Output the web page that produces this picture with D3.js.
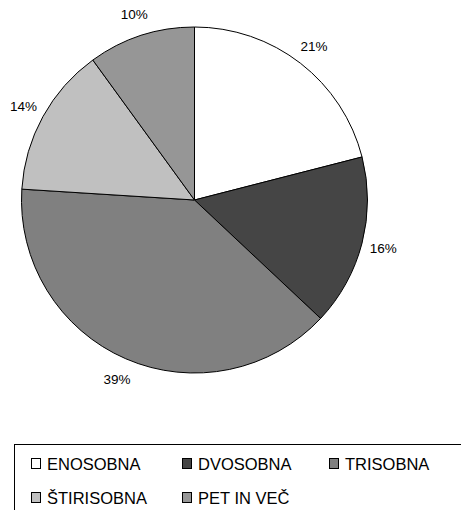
<!DOCTYPE html>
<html>
<head>
<meta charset="utf-8">
<script src="https://cdn.jsdelivr.net/npm/d3@7"></script>
<style>
  body { margin: 0; background: #fff; }
  text { font-family: "Liberation Sans", Arial, sans-serif; fill: #000; }
</style>
</head>
<body>
<script>
var width = 461, height = 510;

var categories = ["ENOSOBNA", "DVOSOBNA", "TRISOBNA", "ŠTIRISOBNA", "PET IN VEČ"];
var values = [21, 16, 39, 14, 10];
var labels = ["21%", "16%", "39%", "14%", "10%"];
var colors = ["#ffffff", "#454545", "#808080", "#c0c0c0", "#969696"];

var svg = d3.select("body")
    .append("svg")
    .attr("width", width)
    .attr("height", height);

var cx = 194.5, cy = 200, radius = 173;

var color = d3.scaleOrdinal().domain(categories).range(colors);

var pie = d3.pie().sort(null).value(function(d) { return d.value; });
var arc = d3.arc().innerRadius(0).outerRadius(radius);
var labelArc = d3.arc().innerRadius(195).outerRadius(195);

var data = categories.map(function(c, i) {
    return { name: c, value: values[i], label: labels[i] };
});

var g = svg.append("g").attr("transform", "translate(" + cx + "," + cy + ")");

g.selectAll("path")
    .data(pie(data))
    .enter()
    .append("path")
    .attr("d", arc)
    .attr("fill", function(d) { return color(d.data.name); })
    .attr("stroke", "#000")
    .attr("stroke-width", 1);

g.selectAll("text.lbl")
    .data(pie(data))
    .enter()
    .append("text")
    .attr("class", "lbl")
    .attr("transform", function(d) { return "translate(" + labelArc.centroid(d) + ")"; })
    .attr("text-anchor", "middle")
    .attr("dy", "0.35em")
    .style("font-size", "13.5px")
    .text(function(d) { return d.data.label; });

// legend
var legend = svg.append("g");
legend.append("rect")
    .attr("x", 14.5).attr("y", 444.5)
    .attr("width", 460).attr("height", 80)
    .attr("fill", "#fff")
    .attr("stroke", "#000")
    .attr("stroke-width", 1);

var colX = [31, 182, 329];
var rowY = [464, 498];

var items = legend.selectAll("g.item")
    .data(data)
    .enter()
    .append("g")
    .attr("class", "item")
    .attr("transform", function(d, i) {
        return "translate(" + colX[i % 3] + "," + rowY[Math.floor(i / 3)] + ")";
    });

items.append("rect")
    .attr("x", 0.5).attr("y", -5.5)
    .attr("width", 9).attr("height", 10)
    .attr("fill", function(d) { return color(d.name); })
    .attr("stroke", "#000")
    .attr("stroke-width", 1);

items.append("text")
    .attr("x", 16)
    .attr("dy", "0.36em")
    .style("font-size", "16.5px")
    .text(function(d) { return d.name; });
</script>
</body>
</html>
